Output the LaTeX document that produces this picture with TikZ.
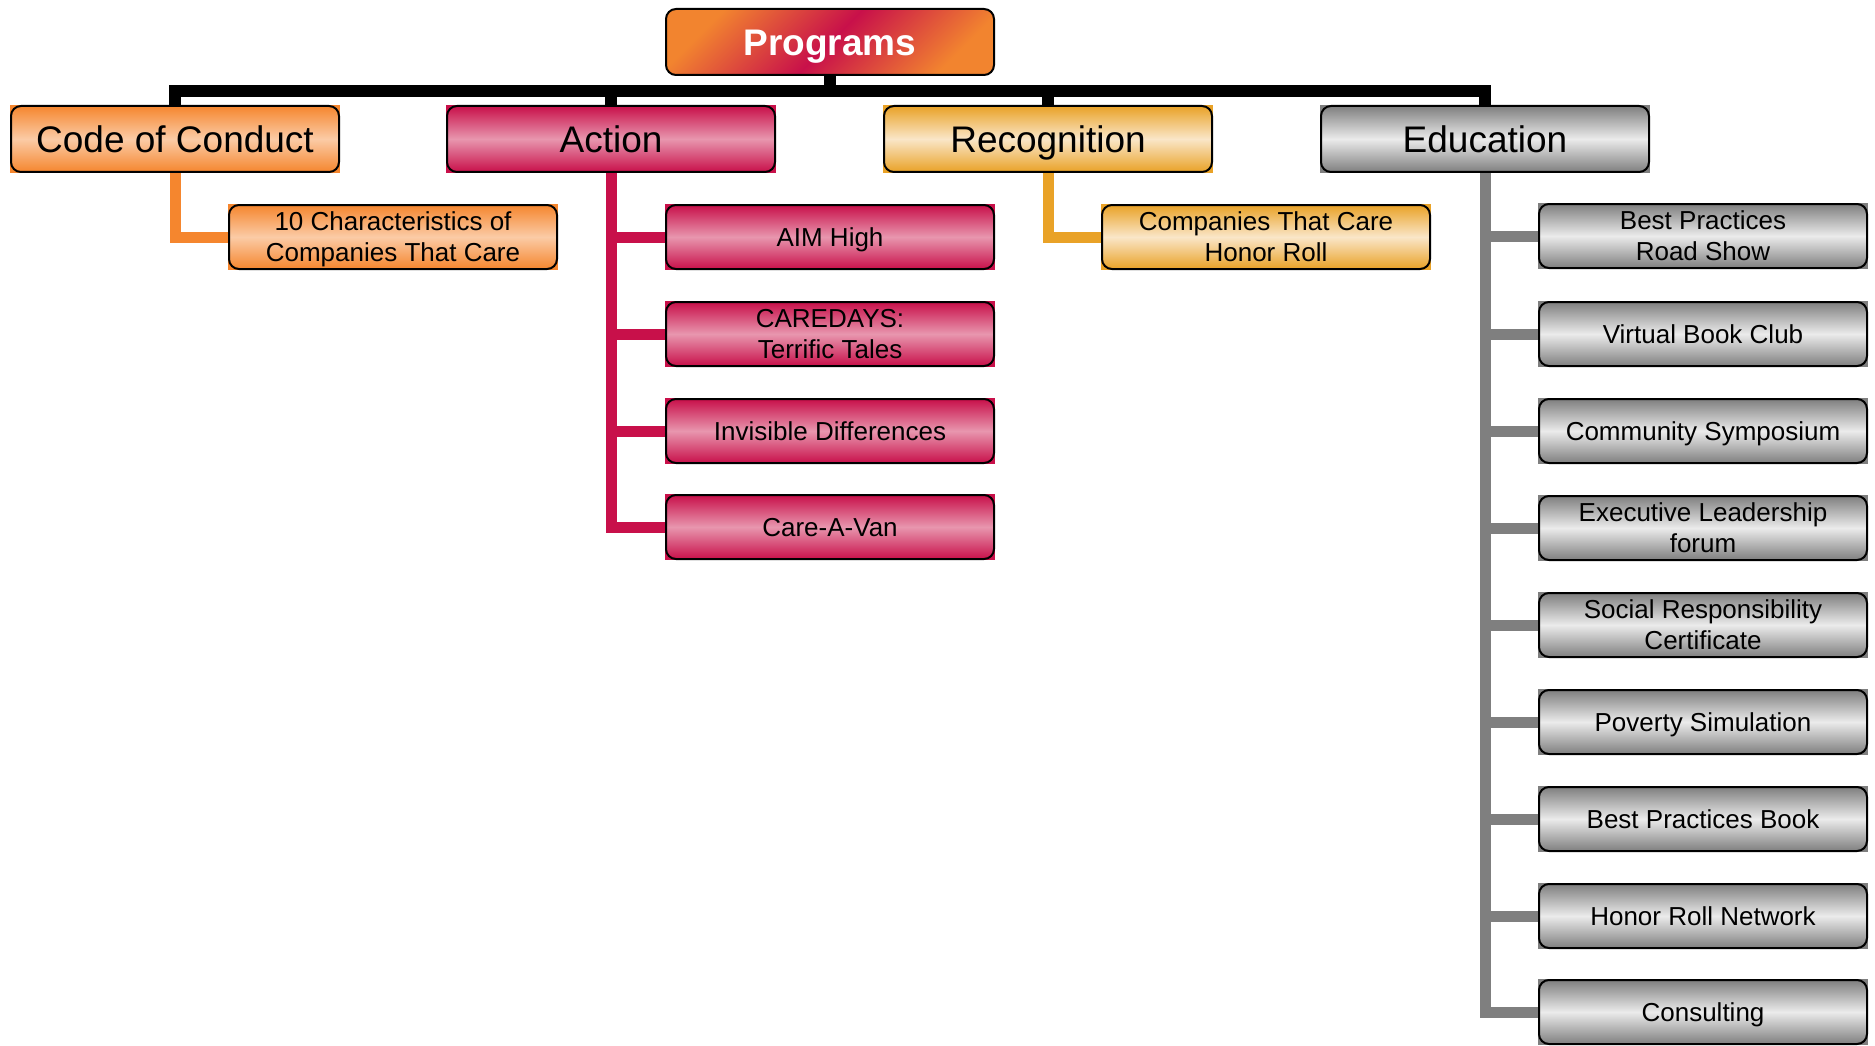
\documentclass[tikz,border=0pt]{standalone}
\usepackage{fontspec}
\setmainfont{Liberation Sans}
\usetikzlibrary{backgrounds}
\definecolor{orE}{HTML}{F5862E}\definecolor{orM}{HTML}{FBCBA6}
\definecolor{crE}{HTML}{C8104A}\definecolor{crM}{HTML}{E896AE}
\definecolor{goE}{HTML}{E9A227}\definecolor{goM}{HTML}{FAE6C8}
\definecolor{grE}{HTML}{7F7F7F}\definecolor{grM}{HTML}{EBEBEB}
\definecolor{pgO}{HTML}{F2842F}
\newcommand\capstrut{\rule[-0.2em]{0pt}{1.12em}}
\newcommand\twol[2]{\capstrut#1\\#2\capstrut}
\tikzset{
  x=1pt,y=-1pt,
  box/.style={draw=black,line width=2pt,rounded corners=10pt,minimum width=328pt,minimum height=64pt,inner sep=0pt,align=center,text=black,
    execute at end node=\capstrut},
  top/.style={box,minimum height=66pt,font=\fontsize{37}{44}\selectfont},
  kid/.style={box,font=\fontsize{26}{31}\selectfont},
  orbox/.style={top color=orE,bottom color=orE,middle color=orM},
  crbox/.style={top color=crE,bottom color=crE,middle color=crM},
  gobox/.style={top color=goE,bottom color=goE,middle color=goM},
  grbox/.style={top color=grE,bottom color=grE,middle color=grM},
  busline/.style={line width=12pt,black,line join=miter},
  link/.style={line width=11pt,line join=miter},
}
\begin{document}
\begin{tikzpicture}
\useasboundingbox (0,0) rectangle (1875,1046);
% root
\node[box,minimum height=66pt,font=\fontsize{37}{44}\selectfont\bfseries,text=white,
      left color=pgO,right color=pgO,middle color=crE,shading angle=45] (prog) at (830,42) {Programs};
% top level
\node[top,orbox] (code) at (175,139) {Code of Conduct};
\node[top,crbox] (act)  at (611,139) {Action};
\node[top,gobox] (rec)  at (1048,139) {Recognition};
\node[top,grbox] (edu)  at (1485,139) {Education};
% children
\node[kid,orbox] (char) at (393,237) {\twol{10 Characteristics of}{Companies That Care}};
\node[kid,crbox] (a1) at (830,237) {AIM High};
\node[kid,crbox] (a2) at (830,334) {\twol{CAREDAYS:}{Terrific Tales}};
\node[kid,crbox] (a3) at (830,431) {Invisible Differences};
\node[kid,crbox] (a4) at (830,527) {Care-A-Van};
\node[kid,gobox] (r1) at (1266,237) {\twol{Companies That Care}{Honor Roll}};
\node[kid,grbox] (e1) at (1703,236) {\twol{Best Practices}{Road Show}};
\node[kid,grbox] (e2) at (1703,334) {Virtual Book Club};
\node[kid,grbox] (e3) at (1703,431) {Community Symposium};
\node[kid,grbox] (e4) at (1703,528) {\twol{Executive Leadership}{forum}};
\node[kid,grbox] (e5) at (1703,625) {\twol{Social Responsibility}{Certificate}};
\node[kid,grbox] (e6) at (1703,722) {Poverty Simulation};
\node[kid,grbox] (e7) at (1703,819) {Best Practices Book};
\node[kid,grbox] (e8) at (1703,916) {Honor Roll Network};
\node[kid,grbox] (e9) at (1703,1012) {Consulting};
\coordinate (bus) at (830,91);
\begin{scope}[on background layer]
  \foreach \n/\c in {code/orE,char/orE,act/crE,a1/crE,a2/crE,a3/crE,a4/crE,rec/goE,r1/goE,
     edu/grE,e1/grE,e2/grE,e3/grE,e4/grE,e5/grE,e6/grE,e7/grE,e8/grE,e9/grE}
    \fill[\c] (\n.south west) rectangle (\n.north east);
  \draw[busline] (prog.south) -- (bus);
  \draw[busline] (code.north) |- (bus) -| (edu.north);
  \draw[busline] (act.north) -- (act.north |- bus);
  \draw[busline] (rec.north) -- (rec.north |- bus);
  \draw[link,orE] (code.south) |- (char.west);
  \foreach \k in {a1,a2,a3,a4} \draw[link,crE] (act.south) |- (\k.west);
  \draw[link,goE] (rec.south) |- (r1.west);
  \foreach \k in {e1,e2,e3,e4,e5,e6,e7,e8,e9} \draw[link,grE] (edu.south) |- (\k.west);
\end{scope}
\end{tikzpicture}
\end{document}
